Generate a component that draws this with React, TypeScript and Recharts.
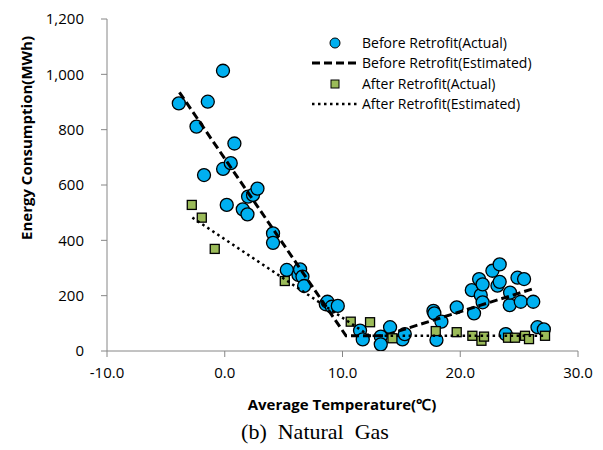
import React from "react"
import { ScatterChart, Scatter, XAxis, YAxis } from "recharts"

// [temperature, MWh]
const beforeActual: [number, number][] = [
  [-3.9, 895], [-2.4, 811], [-1.76, 636], [-1.44, 901], [-0.15, 1013], [-0.14, 658],
  [0.17, 528], [0.51, 679], [0.82, 750], [1.53, 512], [1.93, 494], [1.98, 558],
  [2.4, 564], [2.78, 587], [4.1, 425], [4.1, 391], [5.27, 293], [6.26, 275],
  [6.4, 295], [6.6, 269], [6.74, 235], [8.58, 169], [8.72, 178], [9.09, 160],
  [9.6, 163], [11.49, 74], [11.72, 42], [13.25, 52], [13.25, 24], [14.04, 86],
  [15.09, 42], [15.29, 61], [17.72, 145], [17.8, 136], [17.98, 40], [18.4, 106],
  [19.7, 158], [20.98, 220], [21.17, 136], [21.6, 260], [21.74, 202], [21.9, 241],
  [21.9, 176], [22.73, 290], [23.16, 236], [23.35, 313], [23.35, 250], [23.86, 61],
  [24.2, 166], [24.23, 211], [24.86, 265], [25.14, 178], [25.42, 260], [26.2, 178],
  [26.56, 86], [27.1, 78],
]

const afterActual: [number, number][] = [
  [-2.8, 528], [-1.95, 482], [-0.85, 369], [5.1, 253], [10.7, 106], [12.34, 104],
  [14.24, 46], [17.92, 72], [19.7, 68], [21.03, 55], [21.8, 37], [22.02, 52],
  [24.06, 48], [24.65, 48], [25.5, 55], [25.84, 43], [27.2, 55],
]

const beforeEstimated: [number, number][] = [[-3.85, 935], [10.3, 55], [13.5, 55], [26.4, 228]]
const afterEstimated: [number, number][] = [[-2.75, 482], [12.3, 55], [27.2, 55]]

const xTicks = [-10, 0, 10, 20, 30]
const yTicks = [0, 200, 400, 600, 800, 1000, 1200]

const toPoints = (arr: [number, number][]) => arr.map(([x, y]) => ({ x, y }))

const axisColor = "#868686"
const tickStyle = { fill: "#000", fontSize: 15, fontFamily: "Open Sans" }

const Circle = (p: any) => (
  <circle cx={p.cx} cy={p.cy} r={6.5} fill="#00B0F0" stroke="#000" strokeWidth={1.3} />
)
const Square = (p: any) => (
  <rect x={p.cx - 4.5} y={p.cy - 4.5} width={9} height={9} fill="#9BBB59" stroke="#000" strokeWidth={1.3} />
)
const Nothing = () => <g />

export default function App() {
  return (
    <div style={{ position: "absolute", left: 0, top: 0, width: 603, height: 450, background: "#fff" }}>
      <ScatterChart width={603} height={450} margin={{ top: 19, right: 25, bottom: 69, left: 47 }}>
        <XAxis
          type="number"
          dataKey="x"
          domain={[-10, 30]}
          ticks={xTicks}
          tickFormatter={(v: number) => v.toFixed(1)}
          stroke={axisColor}
          tickSize={6}
          tickMargin={10}
          height={30}
          tick={tickStyle}
          allowDataOverflow
        />
        <YAxis
          type="number"
          dataKey="y"
          domain={[0, 1200]}
          ticks={yTicks}
          tickFormatter={(v: number) => v.toLocaleString("en-US")}
          stroke={axisColor}
          tickSize={6}
          tickMargin={17}
          width={60}
          tick={tickStyle}
          allowDataOverflow
        />
        <Scatter data={toPoints(beforeActual)} shape={Circle} isAnimationActive={false} />
        <Scatter
          data={toPoints(beforeEstimated)}
          shape={Nothing}
          line={{ stroke: "#000", strokeWidth: 3, strokeDasharray: "8 4" }}
          isAnimationActive={false}
        />
        <Scatter data={toPoints(afterActual)} shape={Square} isAnimationActive={false} />
        <Scatter
          data={toPoints(afterEstimated)}
          shape={Nothing}
          line={{ stroke: "#000", strokeWidth: 2.5, strokeDasharray: "2.5 3.5" }}
          isAnimationActive={false}
        />
      </ScatterChart>

      <svg width={603} height={450} style={{ position: "absolute", left: 0, top: 0, pointerEvents: "none" }}>
        {/* legend */}
        <g fontFamily="Open Sans" fontSize={14} fill="#000">
          <circle cx={335} cy={43} r={5} fill="#00B0F0" stroke="#000" strokeWidth={1} />
          <text x={362} y={48}>Before Retrofit(Actual)</text>
          <line x1={312} y1={63} x2={359} y2={63} stroke="#000" strokeWidth={3} strokeDasharray="8 4" />
          <text x={362} y={68}>Before Retrofit(Estimated)</text>
          <rect x={331} y={80} width={8} height={8} fill="#9BBB59" stroke="#000" strokeWidth={1} />
          <text x={362} y={89}>After Retrofit(Actual)</text>
          <line x1={312} y1={104} x2={359} y2={104} stroke="#000" strokeWidth={2.5} strokeDasharray="2.5 3.5" />
          <text x={362} y={109}>After Retrofit(Estimated)</text>
        </g>
        <text
          transform="translate(32,138) rotate(-90)"
          textAnchor="middle"
          fontFamily="Open Sans"
          fontWeight="bold"
          fontSize={15}
        >
          Energy Consumption(MWh)
        </text>
        <text x={342} y={410} textAnchor="middle" fontFamily="Open Sans" fontWeight="bold" fontSize={15}>
          Average Temperature(℃)
        </text>
        <text x={315} y={439} textAnchor="middle" fontFamily="Liberation Serif" fontSize={22} style={{ whiteSpace: "pre" }}>
          (b)  Natural  Gas
        </text>
      </svg>
    </div>
  )
}
